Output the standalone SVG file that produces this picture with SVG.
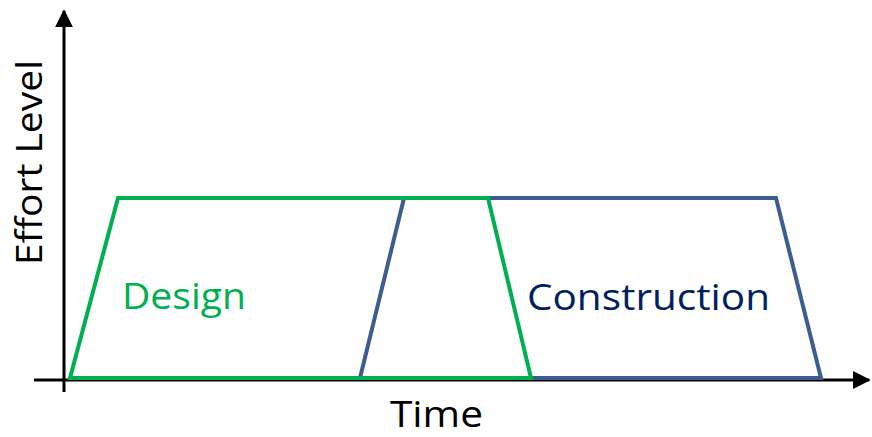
<svg xmlns="http://www.w3.org/2000/svg" width="872" height="437" viewBox="0 0 872 437">
<defs>
<marker id="ah" viewBox="0 0 10 10" refX="9" refY="5" markerWidth="6" markerHeight="6" markerUnits="strokeWidth" orient="auto"><path d="M0,0 L10,5 L0,10 z" fill="#000"/></marker>
<style>
.ax{stroke:#000;stroke-width:3;fill:none}
.g{stroke:#00B050;stroke-width:4;fill:none;stroke-linejoin:miter}
.b{stroke:#3B5E8E;stroke-width:4;fill:none;stroke-linejoin:miter}
text{font-family:"Open Sans","Liberation Sans",sans-serif;font-size:37px}
</style>
</defs>
<g id="connectors">
<line class="ax" x1="64" y1="392" x2="64" y2="11" marker-end="url(#ah)"/>
<line class="ax" x1="34" y1="380" x2="869" y2="380" marker-end="url(#ah)"/>
</g>
<g id="construction">
<polyline class="b" points="360,378 404,198 776,198 821,378 488,378"/>
<text x="527" y="310" textLength="243" lengthAdjust="spacingAndGlyphs" fill="#002060">Construction</text>
</g>
<g id="design">
<polygon class="g" points="70,378 118,198 488,198 531,378"/>
<text x="122" y="309" textLength="124" lengthAdjust="spacingAndGlyphs" fill="#00B050">Design</text>
</g>
<g id="labels">
<text x="390" y="427" textLength="93" lengthAdjust="spacingAndGlyphs" fill="#000">Time</text>
<text transform="translate(42,265) rotate(-90)" textLength="205" lengthAdjust="spacingAndGlyphs" fill="#000">Effort Level</text>
</g>
</svg>
